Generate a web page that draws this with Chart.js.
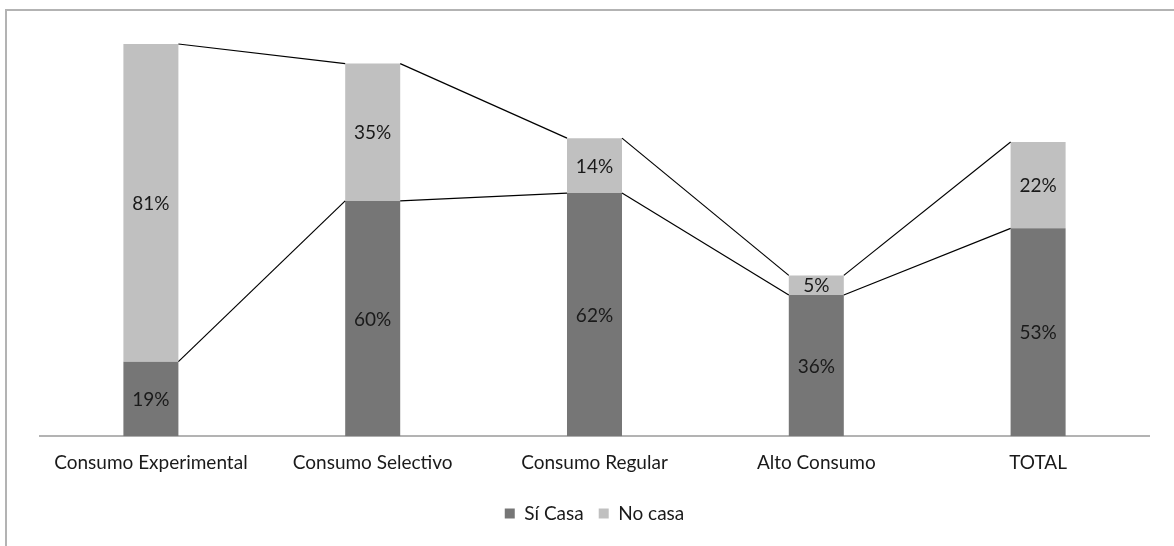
<!DOCTYPE html>
<html>
<head>
<meta charset="utf-8">
<script src="https://cdn.jsdelivr.net/npm/chart.js@4/dist/chart.umd.min.js"></script>
<style>
  body { margin: 0; background: #fff; }
  #frame { position: absolute; left: 5px; top: 9px; width: 1300px; height: 700px; border: 2px solid #b3b3b3; box-sizing: border-box; }
  #wrap { position: absolute; left: 0; top: 0; width: 1174px; height: 546px; }
</style>
</head>
<body>
<div id="frame"></div>
<div id="wrap"><canvas id="myChart"></canvas></div>
<script>
const categories = ['Consumo Experimental', 'Consumo Selectivo', 'Consumo Regular', 'Alto Consumo', 'TOTAL'];
const siCasa     = [19, 60, 62, 36, 53];
const noCasa     = [81, 35, 14, 5, 22];

const FONT = "Lato, 'Open Sans', sans-serif";

// lines joining the tops of each series from one bar to the next
const seriesLines = {
    id: 'seriesLines',
    afterDatasetsDraw(chart) {
        const ctx = chart.ctx;
        ctx.save();
        ctx.strokeStyle = '#000';
        ctx.lineWidth = 1.2;
        chart.data.datasets.forEach((ds, i) => {
            const bars = chart.getDatasetMeta(i).data;
            for (let k = 0; k < bars.length - 1; k++) {
                const a = bars[k], b = bars[k + 1];
                ctx.beginPath();
                ctx.moveTo(a.x + a.width / 2, a.y);
                ctx.lineTo(b.x - b.width / 2, b.y);
                ctx.stroke();
            }
        });
        ctx.restore();
    }
};

const barLabels = {
    id: 'barLabels',
    afterDatasetsDraw(chart) {
        const ctx = chart.ctx;
        ctx.save();
        ctx.font = '19px ' + FONT;
        ctx.fillStyle = '#1a1a1a';
        ctx.textAlign = 'center';
        ctx.textBaseline = 'middle';
        chart.data.datasets.forEach((ds, i) => {
            chart.getDatasetMeta(i).data.forEach((bar, k) => {
                ctx.fillText(ds.data[k] + '%', bar.x, (bar.y + bar.base) / 2 + 1);
            });
        });
        ctx.restore();
    }
};

new Chart(document.getElementById('myChart'), {
    type: 'bar',
    data: {
        labels: categories,
        datasets: [
            { label: 'Sí Casa', data: siCasa, backgroundColor: '#767676', categoryPercentage: 0.496, barPercentage: 0.5 },
            { label: 'No casa', data: noCasa, backgroundColor: '#c0c0c0', categoryPercentage: 0.496, barPercentage: 0.5 }
        ]
    },
    options: {
        responsive: true,
        maintainAspectRatio: false,
        animation: false,
        layout: { padding: { left: 40, right: 25, top: 44, bottom: 13 } },
        scales: {
            x: {
                stacked: true,
                grid: { display: false, drawTicks: false },
                border: { color: '#b3b3b3', width: 2 },
                ticks: { color: '#1a1a1a', font: { family: FONT, size: 19 }, padding: 15, maxRotation: 0, autoSkip: false }
            },
            y: {
                stacked: true,
                display: false,
                min: 0,
                max: 100
            }
        },
        plugins: {
            legend: {
                position: 'bottom',
                labels: {
                    color: '#1a1a1a',
                    font: { family: FONT, size: 19 },
                    boxWidth: 10,
                    boxHeight: 10,
                    padding: 15
                }
            },
            tooltip: { enabled: false }
        }
    },
    plugins: [seriesLines, barLabels]
});
</script>
</body>
</html>
